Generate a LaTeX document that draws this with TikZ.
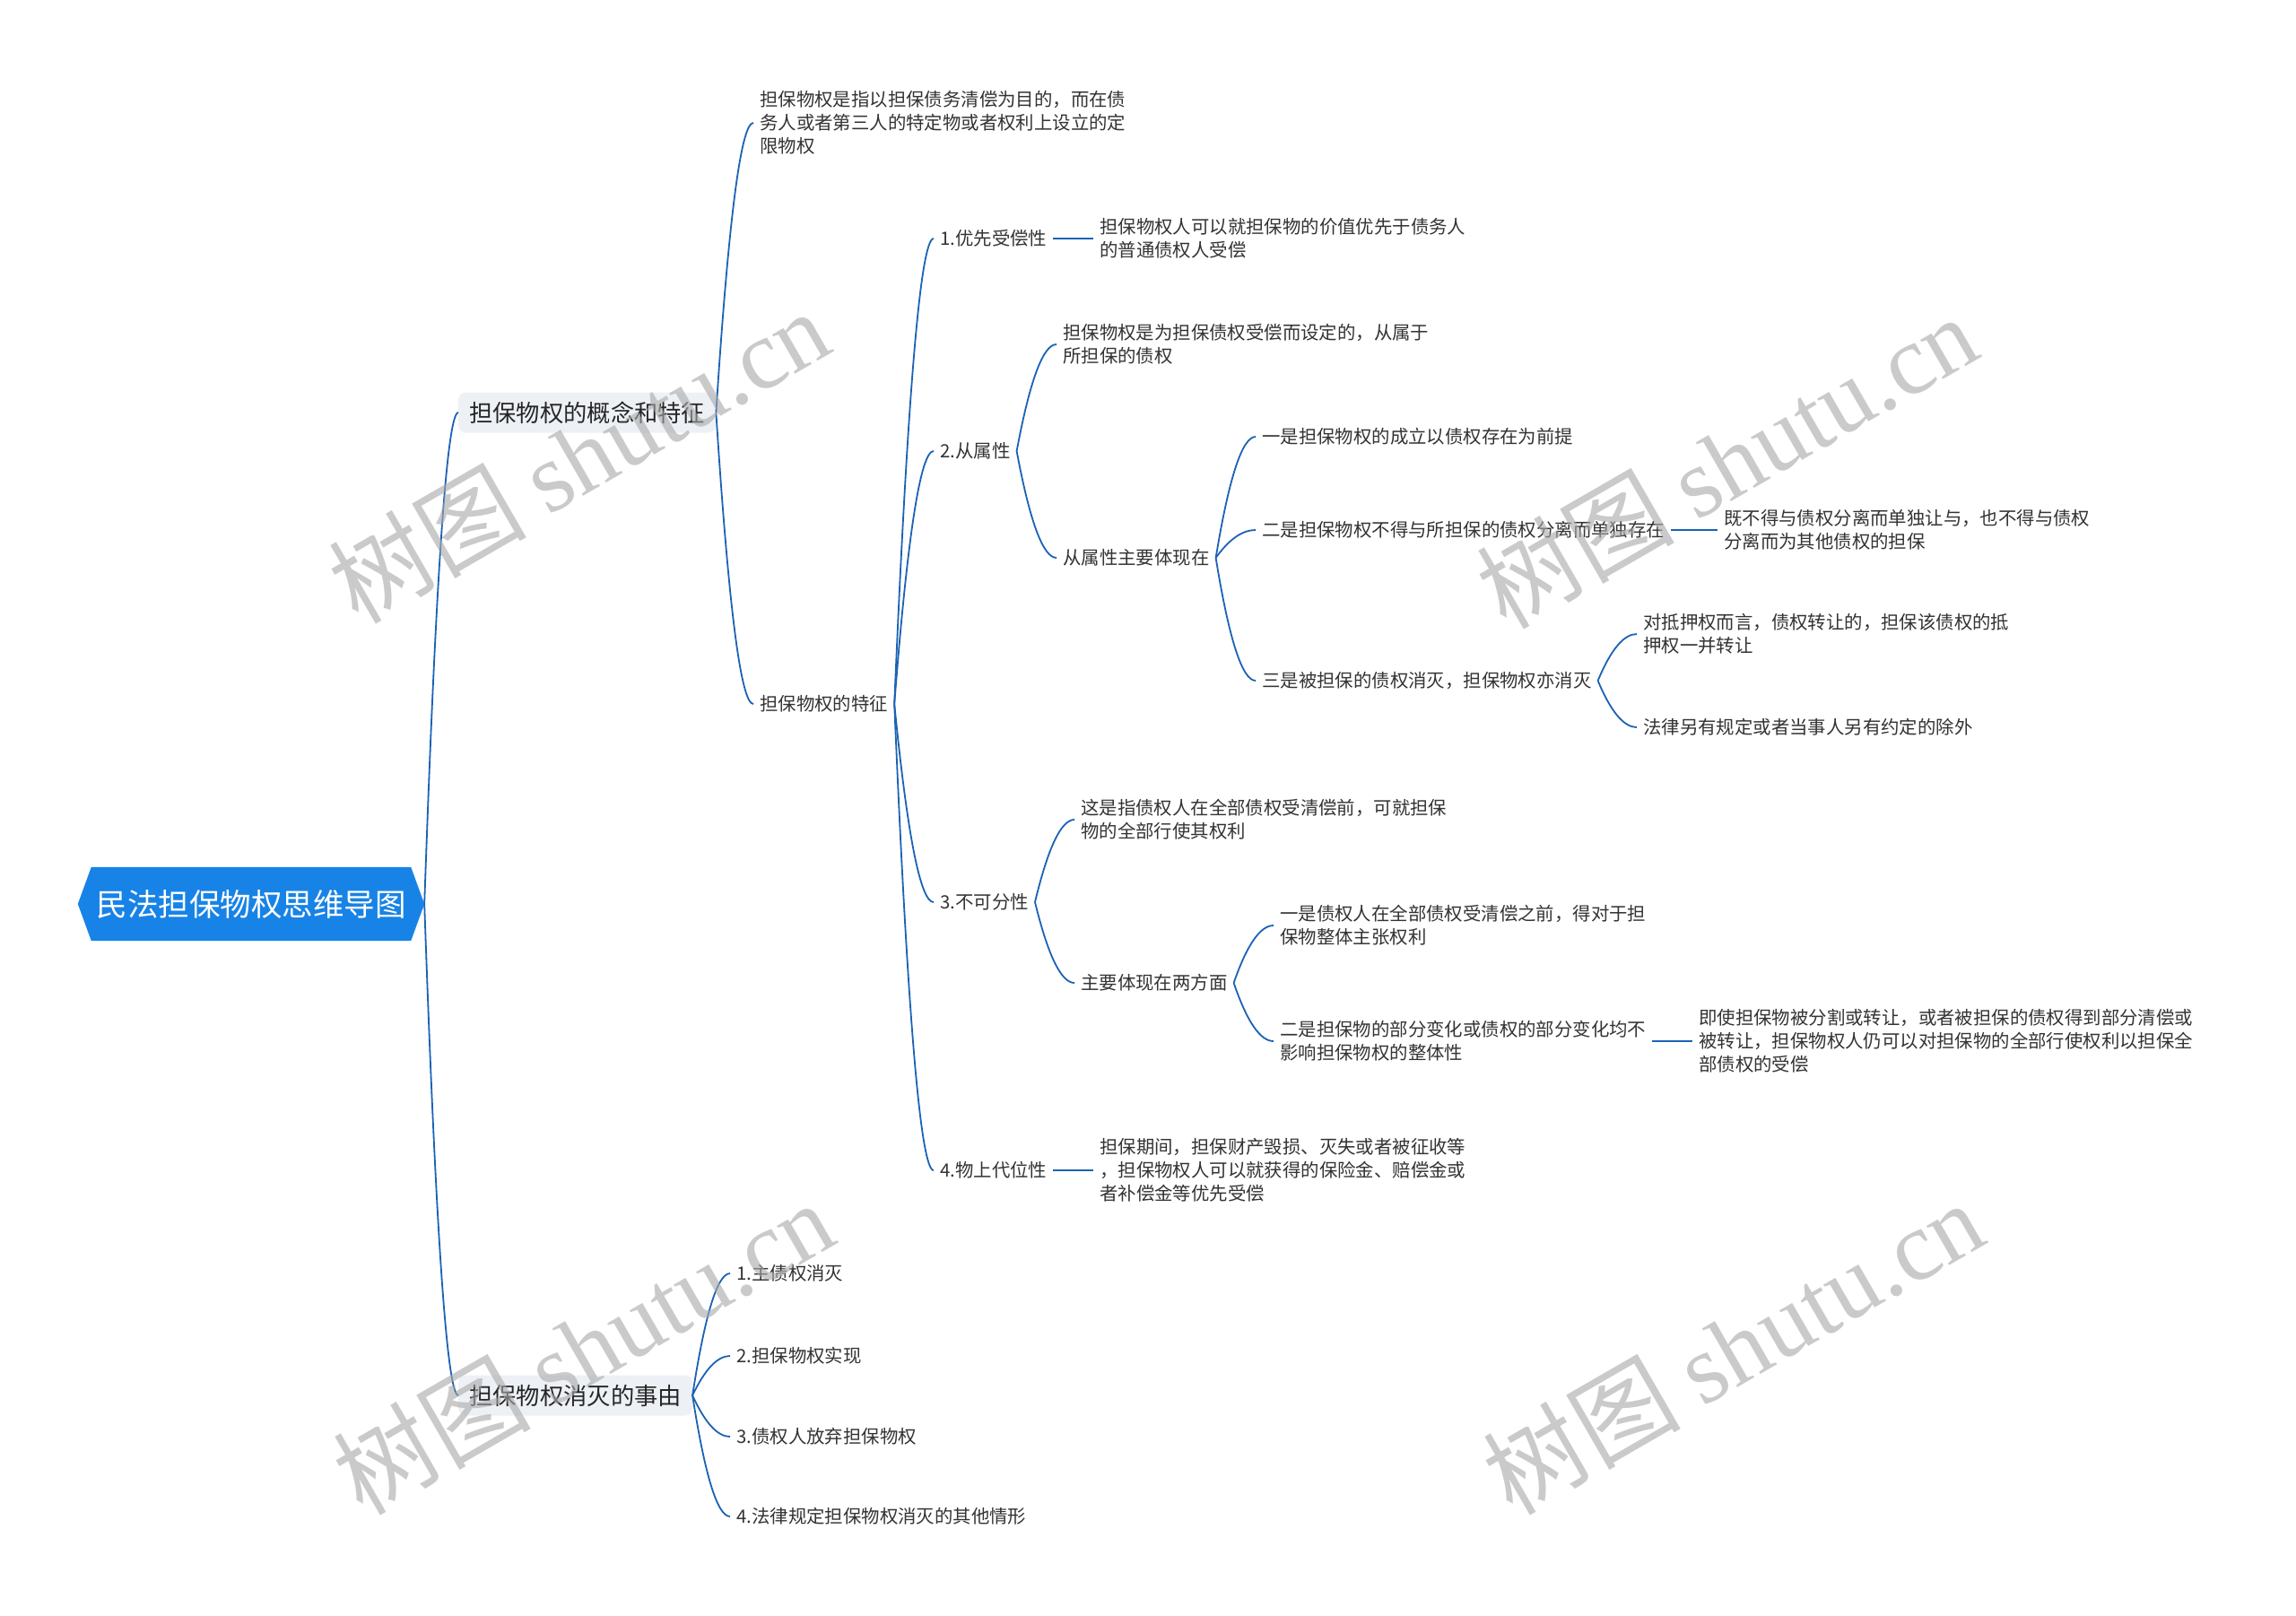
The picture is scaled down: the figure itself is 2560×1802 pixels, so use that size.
\documentclass[tikz,border=0pt]{standalone}
\usepackage{fontspec}
\setmainfont{Noto Sans CJK SC}
\newfontfamily\wmfont{Liberation Serif}
\usetikzlibrary{calc,backgrounds}
\definecolor{linec}{HTML}{1B62B5}
\definecolor{rootc}{HTML}{1883E6}
\definecolor{lonebg}{HTML}{EDF1F6}
\definecolor{txt}{HTML}{333333}
\definecolor{wmc}{HTML}{A8A8A8}
\tikzset{
  leaf/.style={anchor=west, inner xsep=7pt, inner ysep=2pt, font=\fontsize{20.4}{26}\selectfont, text=txt, align=left},
  lone/.style={anchor=west, fill=lonebg, rounded corners=8pt, minimum height=45pt, inner xsep=12pt, font=\fontsize{26.3}{32}\selectfont, text=black!85},
  rootnode/.style={minimum width=386pt, minimum height=82pt, inner sep=0pt, font=\fontsize{34.5}{40}\selectfont, text=white},
  conn/.style={draw=linec, line width=1.8pt,
    to path={let \p1=(\tikztostart), \p2=(\tikztotarget) in
      .. controls ({\x1+(\x2-\x1)/3},{\y1+2*(\y2-\y1)/3}) and ({\x2-(\x2-\x1)/3},{\y2}) .. (\tikztotarget)}},
  wmark/.style={rotate=30, text=wmc, text opacity=0.6, font=\fontsize{110}{110}\selectfont}
}
\begin{document}
\begin{tikzpicture}[x=1pt,y=-1pt]
\useasboundingbox (0,0) rectangle (2560,1802);

% root
\node[rootnode] (root) at (280,1008) {民法担保物权思维导图};
\begin{scope}[on background layer]
\fill[white] (0,0) rectangle (2560,1802);
\fill[rootc] ([xshift=15pt]root.north west) -- ([xshift=-15pt]root.north east) -- (root.east)
  -- ([xshift=-15pt]root.south east) -- ([xshift=15pt]root.south west) -- (root.west) -- cycle;
\end{scope}

% level 1
\node[lone] (A) at (511,460) {担保物权的概念和特征};
\node[lone] (B) at (511,1556) {担保物权消灭的事由};

% children of A
\node[leaf] (A1) at (840,137) {担保物权是指以担保债务清偿为目的，而在债\\务人或者第三人的特定物或者权利上设立的定\\限物权};
\node[leaf] (A2) at (840,785) {担保物权的特征};

% features
\node[leaf] (C1) at (1041,266) {1.优先受偿性};
\node[leaf] (C1a) at (1219,266) {担保物权人可以就担保物的价值优先于债务人\\的普通债权人受偿};
\node[leaf] (C2) at (1041,503) {2.从属性};
\node[leaf] (C2a) at (1178,384) {担保物权是为担保债权受偿而设定的，从属于\\所担保的债权};
\node[leaf] (C2b) at (1178,622) {从属性主要体现在};
\node[leaf] (D1) at (1400,487) {一是担保物权的成立以债权存在为前提};
\node[leaf] (D2) at (1400,591) {二是担保物权不得与所担保的债权分离而单独存在};
\node[leaf] (D2a) at (1915,591) {既不得与债权分离而单独让与，也不得与债权\\分离而为其他债权的担保};
\node[leaf] (D3) at (1400,759) {三是被担保的债权消灭，担保物权亦消灭};
\node[leaf] (D3a) at (1825,707) {对抵押权而言，债权转让的，担保该债权的抵\\押权一并转让};
\node[leaf] (D3b) at (1825,811) {法律另有规定或者当事人另有约定的除外};
\node[leaf] (C3) at (1041,1006) {3.不可分性};
\node[leaf] (C3a) at (1198,914) {这是指债权人在全部债权受清偿前，可就担保\\物的全部行使其权利};
\node[leaf] (C3b) at (1198,1096) {主要体现在两方面};
\node[leaf] (E1) at (1420,1032) {一是债权人在全部债权受清偿之前，得对于担\\保物整体主张权利};
\node[leaf] (E2) at (1420,1161) {二是担保物的部分变化或债权的部分变化均不\\影响担保物权的整体性};
\node[leaf] (E2a) at (1887,1161) {即使担保物被分割或转让，或者被担保的债权得到部分清偿或\\被转让，担保物权人仍可以对担保物的全部行使权利以担保全\\部债权的受偿};
\node[leaf] (C4) at (1041,1305) {4.物上代位性};
\node[leaf] (C4a) at (1219,1305) {担保期间，担保财产毁损、灭失或者被征收等\\，担保物权人可以就获得的保险金、赔偿金或\\者补偿金等优先受偿};

% children of B
\node[leaf] (B1) at (814,1420) {1.主债权消灭};
\node[leaf] (B2) at (814,1512) {2.担保物权实现};
\node[leaf] (B3) at (814,1602) {3.债权人放弃担保物权};
\node[leaf] (B4) at (814,1691) {4.法律规定担保物权消灭的其他情形};

% connectors
\draw[conn] (root.east) to (A.west);
\draw[conn] (root.east) to (B.west);
\draw[conn] (A.east) to (A1.west);
\draw[conn] (A.east) to (A2.west);
\draw[conn] (A2.east) to (C1.west);
\draw[conn] (A2.east) to (C2.west);
\draw[conn] (A2.east) to (C3.west);
\draw[conn] (A2.east) to (C4.west);
\draw[conn] (C1.east) to (C1a.west);
\draw[conn] (C2.east) to (C2a.west);
\draw[conn] (C2.east) to (C2b.west);
\draw[conn] (C2b.east) to (D1.west);
\draw[conn] (C2b.east) to (D2.west);
\draw[conn] (C2b.east) to (D3.west);
\draw[conn] (D2.east) to (D2a.west);
\draw[conn] (D3.east) to (D3a.west);
\draw[conn] (D3.east) to (D3b.west);
\draw[conn] (C3.east) to (C3a.west);
\draw[conn] (C3.east) to (C3b.west);
\draw[conn] (C3b.east) to (E1.west);
\draw[conn] (C3b.east) to (E2.west);
\draw[conn] (E2.east) to (E2a.west);
\draw[conn] (C4.east) to (C4a.west);
\draw[conn] (B.east) to (B1.west);
\draw[conn] (B.east) to (B2.west);
\draw[conn] (B.east) to (B3.west);
\draw[conn] (B.east) to (B4.west);

% watermarks
\node[wmark] (w1) at (645,508) {树图 {\wmfont shutu.cn}};
\node[wmark] (w2) at (1925,514) {树图 {\wmfont shutu.cn}};
\node[wmark] (w3) at (650,1502) {树图 {\wmfont shutu.cn}};
\node[wmark] (w4) at (1932,1502) {树图 {\wmfont shutu.cn}};
\end{tikzpicture}
\end{document}
